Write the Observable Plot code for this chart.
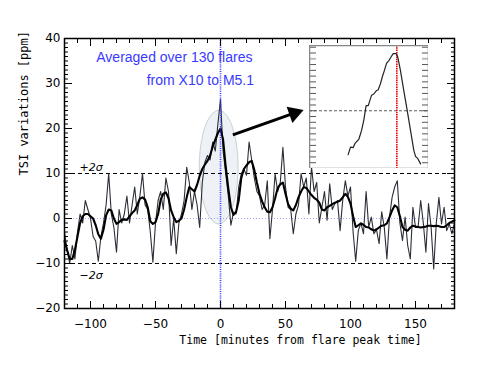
<!DOCTYPE html>
<html><head><meta charset="utf-8">
<script src="https://cdn.jsdelivr.net/npm/d3@7"></script>
<script src="https://cdn.jsdelivr.net/npm/@observablehq/plot@0.6"></script>
<style>
body{margin:0;background:#fff;}
#wrap{position:relative;width:482px;height:372px;}
#inset{position:absolute;left:309px;top:45px;}
</style></head><body><div id="wrap"><div id="main"></div><div id="inset"></div></div>
<script>
// time grid (minutes from flare peak), 2-minute steps
const time = d3.range(-120, 181, 2);
// thin curve: TSI variation (ppm)
const tsiThin = [
 -3, -7, -10, -6, -9, -3, 1, -1, 4, 2,
 0, -4, -5, -9.5, -4, -1, 3, 10, 1, -2,
 -7.5, 2, -1, 1, 5, -1, 3, 7, 1, 5,
 10, 3, 2, -3, -9.7, -1, 4, 6, 2, 9,
 6, -6, 0, -7.8, -1, 1, 4, 11.4, 8, 2,
 6, 3, -2, 8, 12.5, 14, 13, 17, 15, 21,
 26.5, 15, 10, 5, -1.5, 1.4, 1, 7, 10, 11,
 9.6, 17, 13, 9, 6, 5, 2, 3, 8.4, -4.5,
 2, 9.9, 6, 8, 15.8, 7, 2.5, 2, -3.4, 1,
 3, 10, 7, 9, 1, 11.5, 6, 8, -1, 2.5,
 6, -0.4, 7.7, 2, 3.3, 4, -2.7, 4, 8.4, 5,
 7, -3, -9.5, -2.7, -1, -3.4, 6, -1.9, 0.3, -3.4,
 -2.5, -5.6, 1.5, -2, -9, 0.3, 4.7, 7, 8.4, -1,
 -4.9, 0.3, -6, -9, 2.5, -2, -1.9, 4, -1, -7.5,
 3.3, -1.9, -11.2, -1, 4.7, -1.2, 2.5, -2.7, -1.2, -3.4,
 -1
];
// thick curve: smoothed TSI variation (ppm)
const tsiSmooth = [
 -5, -7, -9, -9, -7, -4, -1, 0.5, 1, 1,
 0.5, 0, -1.5, -3.5, -4.5, -2.5, 0.7, 2, 1.8, 0,
 -1.2, -0.8, -0.3, -0.2, -0.3, 0.5, 1.2, 1.8, 3, 4.4,
 4.7, 4.2, 2.5, -0.6, -1.2, -0.8, 1, 4.2, 5.5, 5.8,
 4.5, 1.8, 0.3, -0.8, -0.5, 0, 2, 4.7, 7, 6.5,
 6, 7.5, 9.5, 11, 12, 12.8, 14, 16, 17.5, 19,
 20, 17.5, 11.5, 6.7, 2.5, 0.8, 1.5, 4, 9, 11,
 11.8, 12.5, 12.8, 10.8, 8, 5.5, 3.8, 2.5, 1.5, 1.4,
 2.5, 4.5, 6.8, 7.6, 8, 5.5, 3.2, 2.2, 1.8, 3,
 4.7, 6, 7, 6.8, 6, 5.2, 4.6, 4.2, 3.5, 2,
 1.8, 2.5, 2.8, 3.2, 3.5, 3.7, 4, 4.7, 5.5, 4.8,
 3.3, 0.5, -1.9, -1.5, -1.1, -1.4, -1.9, -2, -2.4, -2.7,
 -2.4, -2, -1.6, -1.5, -1.1, 0.3, 1.8, 2.9, 2.5, 0.5,
 -1.9, -2.5, -2.7, -2, -1.6, -1.8, -1.9, -2, -1.9, -1.8,
 -1.6, -1.6, -1.7, -1.6, -1.7, -1.9, -1.9, -1.5, -1, -0.7,
 -0.4
];
// inset (zoom on the peak)
const insetTime = [-20.3,-19.3,-18.2,-17.5,-15.8,-14.7,-13.8,-12.8,-11.9,-11.0,-10.5,-9.6,-8.5,-7.8,-6.8,-6.1,-5.4,-4.3,-3.3,-2.3,-1.5,-0.3,0.4,1.5,2.9,4.3,5.7,7.1,7.8,8.75,9.9];
const insetValue = [2.4,3.7,3.6,4.3,5.1,6.6,8.3,10.9,10.9,12.1,12.7,12.9,13.5,13.6,14.7,15.8,16.7,18.2,18.7,19.4,19.9,19.9,19.3,17.0,13.5,10.1,6.6,3.1,2.1,1.7,0.8];

const xMajor = [-100, -50, 0, 50, 100, 150];
const xTickLabels = ["\u2212100", "\u221250", "0", "50", "100", "150"];
const yMajor = [-20, -10, 0, 10, 20, 30, 40];
const yTickLabels = ["\u221220", "\u221210", "0", "10", "20", "30", "40"];
const sigmaLevels = [10, -10];
const sigmaLabels = ["+2\u03c3", "\u22122\u03c3"];
const titleLines = ["Averaged over 130 flares", "from X10 to M5.1"];
const titlePos = [[-35.5, 35.8], [-15.5, 30.7]];
const ellipseSpec = {cx: -1.4, cy: 11.4, rx: 14.9, ry: 12.6};
const arrowSpec = {x1: 9.5, y1: 18.6, x2: 56.7, y2: 23.4};

const thin = time.map((t, i) => ({t, v: tsiThin[i]}));
const smooth = time.map((t, i) => ({t, v: tsiSmooth[i]}));
const ellipse = d3.range(0, 360, 4).map(a => ({
  x: ellipseSpec.cx + ellipseSpec.rx * Math.cos(a * Math.PI / 180),
  y: ellipseSpec.cy + ellipseSpec.ry * Math.sin(a * Math.PI / 180)
}));
const noFmt = () => "";

const main = Plot.plot({
  width: 482, height: 372,
  marginLeft: 64, marginRight: 28, marginTop: 38, marginBottom: 64,
  x: {domain: [-120, 180], axis: null},
  y: {domain: [-20, 40], axis: null},
  style: {fontFamily: "DejaVu Sans", fontSize: "12px", color: "#000", background: "#fff"},
  marks: [
    Plot.line(ellipse, {x: "x", y: "y", curve: "linear-closed", fill: "#eef2f7", stroke: "#c6d1d2", strokeWidth: 1}),
    Plot.ruleY([0], {stroke: "#8f8fff", strokeWidth: 0.8, strokeDasharray: "1,2"}),
    Plot.ruleY(sigmaLevels, {stroke: "#000", strokeWidth: 1, strokeDasharray: "4,3"}),
    Plot.line(thin, {x: "t", y: "v", stroke: "#2a2e36", strokeWidth: 1.1}),
    Plot.line(smooth, {x: "t", y: "v", stroke: "#000", strokeWidth: 2.1}),
    Plot.ruleX([0], {stroke: "#3434ff", strokeWidth: 1.6, strokeDasharray: "1,1.2"}),
    Plot.text(sigmaLabels, {x: -108.5, y: [11.4, -12.7], text: d => d, textAnchor: "start", fontStyle: "italic", fontSize: 11}),
    Plot.text(titleLines, {x: titlePos.map(p => p[0]), y: titlePos.map(p => p[1]), text: d => d, fill: "#3a3aff", fontFamily: "Liberation Sans", fontSize: 14, letterSpacing: 0.5}),
    Plot.link([arrowSpec], {x1: "x1", y1: "y1", x2: "x2", y2: "y2", stroke: "#000", strokeWidth: 3}),
    Plot.dot([arrowSpec], {x: "x2", y: "y2", symbol: "triangle", r: 6.4, fill: "#000", stroke: "none", rotate: 70.6}),
    // ticks (inward)
    Plot.axisX(d3.range(-120, 181, 10), {anchor: "bottom", tickSize: -4, tickFormat: noFmt, label: null}),
    Plot.axisX(xMajor, {anchor: "bottom", tickSize: -7, tickFormat: noFmt, label: null}),
    Plot.axisX(d3.range(-120, 181, 10), {anchor: "top", tickSize: -4, tickFormat: noFmt, label: null}),
    Plot.axisX(xMajor, {anchor: "top", tickSize: -7, tickFormat: noFmt, label: null}),
    Plot.axisY(d3.range(-20, 41, 1), {anchor: "left", tickSize: -4, tickFormat: noFmt, label: null}),
    Plot.axisY(yMajor, {anchor: "left", tickSize: -8, tickFormat: noFmt, label: null}),
    Plot.axisY(d3.range(-20, 41, 1), {anchor: "right", tickSize: -4, tickFormat: noFmt, label: null}),
    Plot.axisY(yMajor, {anchor: "right", tickSize: -8, tickFormat: noFmt, label: null}),
    // tick labels
    Plot.axisX(xMajor, {anchor: "bottom", tickSize: 0, tickPadding: 11, tickFormat: (d, i) => xTickLabels[i], label: null, fontSize: 12, stroke: "#000", strokeWidth: 0.25}),
    Plot.axisY(yMajor, {anchor: "left", tickSize: 0, tickPadding: 4, tickFormat: (d, i) => yTickLabels[i], label: null, fontSize: 12, stroke: "#000", strokeWidth: 0.25}),
    Plot.text(["Time [minutes from flare peak time]"], {frameAnchor: "bottom", dx: 41, dy: 35, fontFamily: "DejaVu Sans Mono", fontSize: 11.5}),
    Plot.text(["TSI variations [ppm]"], {frameAnchor: "left", dx: -40, dy: 2, rotate: -90, fontFamily: "DejaVu Sans Mono", fontSize: 12}),
    Plot.frame({stroke: "#000", strokeWidth: 1.5})
  ]
});
document.getElementById("main").appendChild(main);

const insetData = insetTime.map((t, i) => ({t, v: insetValue[i]}));
const insetTicks = d3.range(1, 22, 1);
const insetGray = [5, 12, 19];
const inset = Plot.plot({
  width: 119, height: 123, margin: 0,
  x: {domain: [-36.4, 13.2], axis: null},
  y: {domain: [0, 21.3], axis: null},
  style: {background: "#fff"},
  marks: [
    Plot.ruleY([10], {stroke: "#333", strokeWidth: 0.8, strokeDasharray: "3,2"}),
    Plot.ruleX([0], {stroke: "#e60000", strokeWidth: 1.6, strokeDasharray: "1.5,0.8"}),
    Plot.line(insetData, {x: "t", y: "v", stroke: "#222", strokeWidth: 1.2}),
    Plot.axisY(insetTicks.filter(d => !insetGray.includes(d)), {anchor: "left", tickSize: -7, tickFormat: noFmt, label: null, stroke: "#555"}),
    Plot.axisY(insetTicks.filter(d => !insetGray.includes(d)), {anchor: "right", tickSize: -7, tickFormat: noFmt, label: null, stroke: "#555"}),
    Plot.axisY(insetGray, {anchor: "left", tickSize: -7, tickFormat: noFmt, label: null, stroke: "#bbb", strokeWidth: 2}),
    Plot.axisY(insetGray, {anchor: "right", tickSize: -7, tickFormat: noFmt, label: null, stroke: "#bbb", strokeWidth: 2}),
    Plot.frame({stroke: "#888", strokeWidth: 1.5})
  ]
});
document.getElementById("inset").appendChild(inset);
</script></body></html>
